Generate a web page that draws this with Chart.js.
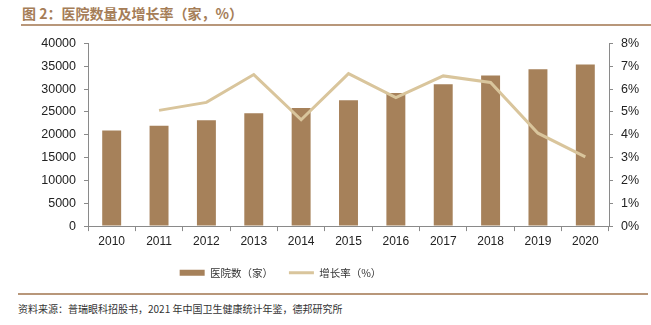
<!DOCTYPE html>
<html>
<head>
<meta charset="utf-8">
<script src="https://cdn.jsdelivr.net/npm/chart.js@4/dist/chart.umd.min.js"></script>
<style>
  body { margin: 0; background: #fff; width: 651px; height: 325px; position: relative; overflow: hidden; }
  #title { position: absolute; left: 22px; top: 3px; font: bold 14px "Noto Sans CJK SC", sans-serif; color: #a57d57; white-space: nowrap; }
  .rule { position: absolute; height: 2px; background: #b8977a; }
  #src { position: absolute; left: 18px; top: 301px; font: 10px "Noto Sans CJK SC", sans-serif; color: #333; white-space: nowrap; }
  #wrap { position: absolute; left: 0; top: 28px; width: 651px; height: 260px; }
</style>
</head>
<body>
<div id="title">图 2：医院数量及增长率（家，%）</div>
<div class="rule" style="left:21px; top:24px; width:630px;"></div>
<div id="wrap"><canvas id="c"></canvas></div>
<div class="rule" style="left:18px; top:293px; width:630px;"></div>
<div id="src">资料来源：普瑞眼科招股书，2021 年中国卫生健康统计年鉴，德邦研究所</div>
<script>
// dữ liệu
const years = ["2010", "2011", "2012", "2013", "2014", "2015", "2016", "2017", "2018", "2019", "2020"];
const hospitals = [20918, 21979, 23170, 24709, 25860, 27587, 29140, 31056, 33009, 34354, 35394];
const growthPct = [null, 5.07, 5.42, 6.64, 4.66, 6.68, 5.63, 6.58, 6.29, 4.07, 3.03];
const leftTicks = [0, 5000, 10000, 15000, 20000, 25000, 30000, 35000, 40000];
const rightTicks = [0, 1, 2, 3, 4, 5, 6, 7, 8];

const BAR_COLOR = "#a6815a";
const LINE_COLOR = "#d9c59c";
const AXIS_COLOR = "#8a8a8a";

// dịch legend sang trái cho giống ảnh gốc
const legendShift = {
  id: "legendShift",
  afterLayout(chart) {
    const lg = chart.legend;
    if (!lg) return;
    lg.left -= 45;
    lg.right -= 45;
  }
};

const ctx = document.getElementById("c").getContext("2d");
new Chart(ctx, {
  data: {
    labels: years,
    datasets: [
      {
        type: "bar",
        label: "医院数（家）",
        data: hospitals,
        backgroundColor: BAR_COLOR,
        borderWidth: 0,
        barPercentage: 0.8,
        categoryPercentage: 0.5,
        yAxisID: "y",
        order: 1,
        pointStyle: "rect",
      },
      {
        type: "line",
        label: "增长率（%）",
        data: growthPct,
        borderColor: LINE_COLOR,
        backgroundColor: LINE_COLOR,
        borderWidth: 3,
        pointRadius: 0,
        tension: 0,
        yAxisID: "y1",
        order: 0,
        pointStyle: "line",
      },
    ],
  },
  options: {
    responsive: true,
    maintainAspectRatio: false,
    animation: false,
    layout: { padding: { top: 12, left: 0, right: 0, bottom: 0 } },
    plugins: {
      tooltip: { enabled: false },
      legend: {
        position: "bottom",
        labels: {
          usePointStyle: true,
          pointStyleWidth: 25,
          boxHeight: 6,
          padding: 16,
          color: "#333",
          font: { family: "'Noto Sans CJK SC'", size: 10.5 },
          sort: (a, b) => a.datasetIndex - b.datasetIndex,
        },
      },
    },
    scales: {
      x: {
        grid: { display: true, drawOnChartArea: false, drawTicks: true, tickLength: 5, color: AXIS_COLOR },
        border: { display: true, color: AXIS_COLOR },
        ticks: { color: "#222", font: { family: "'Liberation Sans'", size: 12 }, padding: 3, maxRotation: 0 },
      },
      y: {
        position: "left",
        min: 0,
        max: 40000,
        afterFit: s => { s.width = 88; },
        afterBuildTicks: s => { s.ticks = leftTicks.map(v => ({ value: v })); },
        grid: { display: true, drawOnChartArea: false, drawTicks: true, tickLength: 4, color: AXIS_COLOR },
        border: { display: true, color: AXIS_COLOR },
        ticks: { color: "#222", font: { family: "'Liberation Sans'", size: 12.5 }, padding: 8, callback: v => String(v) },
      },
      y1: {
        position: "right",
        min: 0,
        max: 8,
        afterFit: s => { s.width = 42; },
        afterBuildTicks: s => { s.ticks = rightTicks.map(v => ({ value: v })); },
        grid: { display: true, drawOnChartArea: false, drawTicks: true, tickLength: 4, color: AXIS_COLOR },
        border: { display: true, color: AXIS_COLOR },
        ticks: { color: "#222", font: { family: "'Liberation Sans'", size: 12.5 }, padding: 8, callback: v => v + "%" },
      },
    },
  },
  plugins: [legendShift],
});
</script>
</body>
</html>
